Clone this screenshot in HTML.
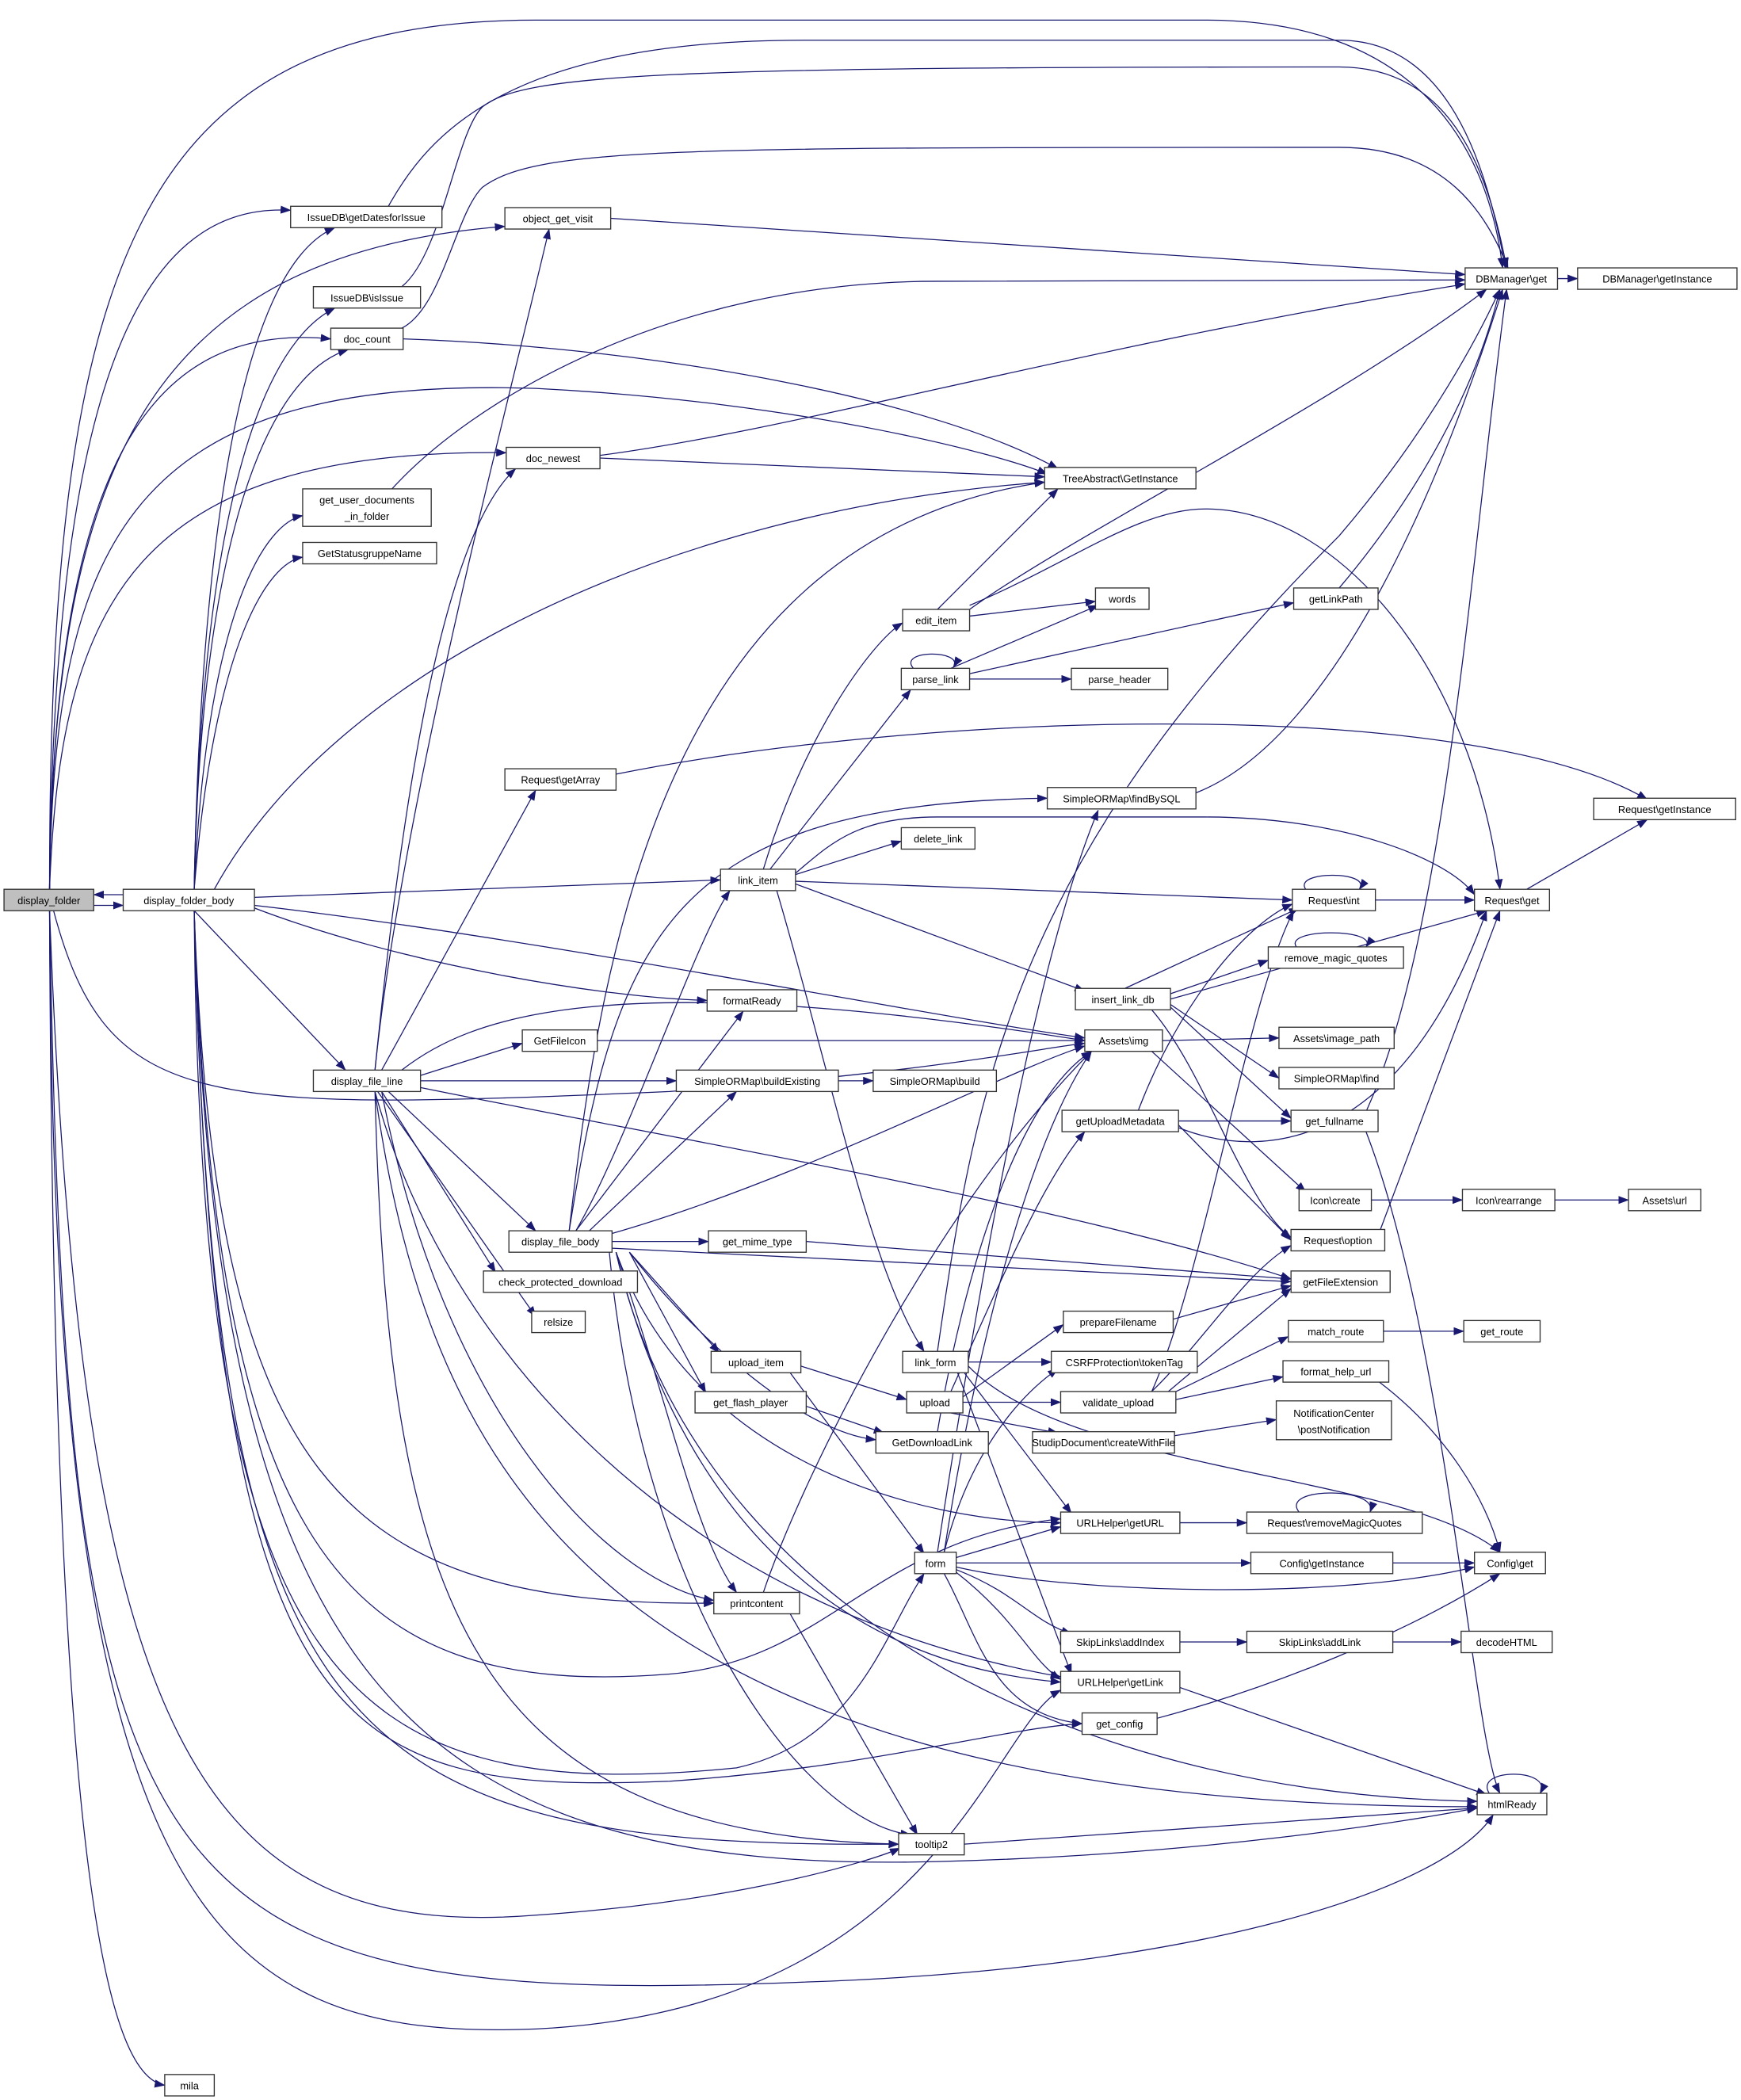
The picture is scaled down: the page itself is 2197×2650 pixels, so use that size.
<!DOCTYPE html>
<html><head><meta charset="utf-8"><style>
html,body{margin:0;padding:0;background:#fff;}
svg{display:block;}
text{font-family:"Liberation Sans","DejaVu Sans",sans-serif;font-size:7.6px;fill:#000;}
.n{fill:#fff;stroke:#333;stroke-width:0.8;}
.e{fill:none;stroke:#191970;stroke-width:0.75;marker-end:url(#a);}
</style></head><body>
<svg width="2197" height="2650" viewBox="0 0 1300 1568" xmlns="http://www.w3.org/2000/svg">
<defs><marker id="a" markerUnits="userSpaceOnUse" markerWidth="8" markerHeight="6" refX="7.5" refY="3" orient="auto"><path d="M0,0 L8,3 L0,6 z" fill="#191970"/></marker></defs>
<g>
<!-- display_folder edges -->
<path class="e" d="M37,664 C37,200 100,15 400,15 L900,15 C1050,15 1110,100 1122,200"/>
<path class="e" d="M37,664 C40,300 100,150 217,157"/>
<path class="e" d="M37,664 C40,350 110,190 377,169"/>
<path class="e" d="M37,664 C40,350 110,240 247,253"/>
<path class="e" d="M37,664 C40,400 100,280 400,290 C600,300 750,340 782,354"/>
<path class="e" d="M37,664 C45,450 100,335 378,338"/>
<path class="e" d="M70,676 L92,676"/>
<path class="e" d="M92,668 L70,668"/>
<path class="e" d="M40,680 C80,830 150,830 500,815 C700,800 780,782 810,779"/>
<path class="e" d="M37,680 C50,1420 100,1500 600,1480 C900,1470 1080,1410 1115,1355"/>
<path class="e" d="M37,680 C60,1300 150,1450 400,1430 C550,1420 650,1390 672,1380"/>
<path class="e" d="M37,680 C40,1420 150,1525 400,1515 C700,1500 740,1290 792,1262"/>
<path class="e" d="M37,680 C40,1400 80,1550 123,1557"/>
<!-- display_folder_body edges -->
<path class="e" d="M145,664 C150,400 180,200 250,170"/>
<path class="e" d="M145,664 C150,400 190,260 250,230"/>
<path class="e" d="M145,664 C150,400 200,280 260,261"/>
<path class="e" d="M145,664 C155,450 200,390 226,385"/>
<path class="e" d="M145,664 C160,480 200,420 226,416"/>
<path class="e" d="M160,664 C250,500 500,380 780,360"/>
<path class="e" d="M190,670 L538,657"/>
<path class="e" d="M145,680 L258,799"/>
<path class="e" d="M190,678 C300,720 450,745 528,747"/>
<path class="e" d="M190,676 C400,700 700,760 810,775"/>
<path class="e" d="M145,680 C160,1100 250,1200 533,1197"/>
<path class="e" d="M145,680 C160,1300 250,1380 671,1377"/>
<path class="e" d="M145,680 C160,1300 250,1340 500,1330 C650,1320 750,1290 808,1287"/>
<path class="e" d="M145,680 C150,1250 250,1350 550,1320 C640,1300 660,1220 690,1175"/>
<path class="e" d="M145,680 C160,1150 250,1270 500,1250 C620,1240 650,1150 792,1134"/>
<path class="e" d="M145,680 C160,1250 300,1400 700,1390 C900,1385 1050,1360 1103,1350"/>
<!-- top arcs to DBManager -->
<path class="e" d="M290,154 C320,100 380,30 600,30 L1000,30 C1080,30 1110,120 1124,200"/>
<path class="e" d="M300,214 C330,190 340,100 360,80 C390,55 500,50 1000,50 C1080,50 1110,120 1125,200"/>
<path class="e" d="M300,245 C330,230 340,160 360,140 C400,110 500,110 1000,110 C1080,110 1110,160 1126,200"/>
<path class="e" d="M456,163 L1094,205"/>
<path class="e" d="M290,368 C350,300 500,210 700,210 L1094,209"/>
<path class="e" d="M301,253 C500,260 700,300 790,350"/>
<path class="e" d="M448,340 C600,320 800,260 1094,212"/>
<path class="e" d="M448,342 L780,356"/>
<path class="e" d="M1163,208 L1178,208"/>
<!-- display_file_line edges -->
<path class="e" d="M280,799 C300,600 380,300 410,171"/>
<path class="e" d="M280,799 C300,600 330,400 385,350"/>
<path class="e" d="M285,799 L400,590"/>
<path class="e" d="M314,803 L390,779"/>
<path class="e" d="M314,807 L505,807"/>
<path class="e" d="M290,815 L400,919"/>
<path class="e" d="M285,815 L370,950"/>
<path class="e" d="M282,815 L400,983"/>
<path class="e" d="M314,812 C500,850 800,900 964,955"/>
<path class="e" d="M300,799 C350,760 450,720 810,777"/>
<path class="e" d="M280,815 C290,1200 350,1370 671,1377"/>
<path class="e" d="M280,815 C320,1100 450,1350 1103,1349"/>
<path class="e" d="M280,815 C330,1000 500,1200 792,1252"/>
<path class="e" d="M285,815 C330,1050 450,1180 533,1195"/>
<!-- display_file_body edges -->
<path class="e" d="M430,919 C470,850 520,700 545,665"/>
<path class="e" d="M425,919 C450,700 500,400 780,360"/>
<path class="e" d="M425,919 C460,700 500,600 782,596"/>
<path class="e" d="M430,919 L555,755"/>
<path class="e" d="M440,919 L550,815"/>
<path class="e" d="M457,921 C600,880 750,800 810,781"/>
<path class="e" d="M457,927 L529,927"/>
<path class="e" d="M457,932 L964,957"/>
<path class="e" d="M470,935 L537,1010"/>
<path class="e" d="M470,935 L527,1040"/>
<path class="e" d="M470,935 C520,1000 600,1070 654,1075"/>
<path class="e" d="M460,935 C500,1050 520,1150 550,1189"/>
<path class="e" d="M455,935 C480,1200 600,1360 680,1370"/>
<path class="e" d="M460,935 C500,1100 600,1240 792,1256"/>
<path class="e" d="M460,935 C520,1100 700,1137 792,1137"/>
<path class="e" d="M460,935 C520,1200 800,1340 1103,1345"/>
<!-- link_item -->
<path class="e" d="M570,649 C600,550 650,480 674,465"/>
<path class="e" d="M575,649 L680,515"/>
<path class="e" d="M594,653 L673,628"/>
<path class="e" d="M594,658 L965,672"/>
<path class="e" d="M594,652 C620,630 640,610 700,610 L900,610 C1000,610 1080,640 1101,668"/>
<path class="e" d="M594,660 L810,740"/>
<path class="e" d="M580,665 C620,800 650,950 690,1009"/>
<!-- edit_item -->
<path class="e" d="M700,455 L790,365"/>
<path class="e" d="M724,460 L818,449"/>
<path class="e" d="M724,455 C800,400 1000,300 1110,216"/>
<path class="e" d="M724,452 C800,420 850,380 900,380 C1000,380 1100,500 1120,664"/>
<!-- parse_link -->
<path class="e" d="M682,499 C670,485 720,485 712,498"/>
<path class="e" d="M710,499 L820,452"/>
<path class="e" d="M724,503 L966,450"/>
<path class="e" d="M724,507 L800,507"/>
<path class="e" d="M1000,439 C1050,380 1100,300 1120,216"/>
<path class="e" d="M460,578 C700,530 1100,520 1230,597"/>
<path class="e" d="M893,592 C1000,550 1080,350 1122,216"/>
<path class="e" d="M1140,664 L1230,612"/>
<path class="e" d="M1027,672 L1101,672"/>
<path class="e" d="M975,664 C965,650 1025,650 1015,664"/>
<path class="e" d="M968,707 C958,693 1030,693 1020,707"/>
<!-- insert_link_db -->
<path class="e" d="M840,738 L970,678"/>
<path class="e" d="M874,742 L947,717"/>
<path class="e" d="M874,746 L1110,680"/>
<path class="e" d="M874,750 L955,805"/>
<path class="e" d="M874,752 L964,835"/>
<path class="e" d="M860,754 C900,800 930,900 964,924"/>
<path class="e" d="M868,777 L955,775"/>
<path class="e" d="M860,785 L975,890"/>
<path class="e" d="M446,777 L810,777"/>
<path class="e" d="M626,807 L652,807"/>
<!-- getUploadMetadata -->
<path class="e" d="M850,829 C880,750 930,690 965,675"/>
<path class="e" d="M880,837 L964,837"/>
<path class="e" d="M880,840 L964,926"/>
<path class="e" d="M880,842 C950,870 1050,850 1110,680"/>
<path class="e" d="M1020,830 C1080,700 1100,400 1125,216"/>
<path class="e" d="M1020,845 C1080,1000 1100,1300 1120,1339"/>
<path class="e" d="M1024,896 L1092,896"/>
<path class="e" d="M1161,896 L1216,896"/>
<path class="e" d="M1030,920 L1120,680"/>
<path class="e" d="M602,927 L964,955"/>
<path class="e" d="M876,985 L964,960"/>
<path class="e" d="M1033,994 L1093,994"/>
<!-- link_form -->
<path class="e" d="M723,1017 L785,1017"/>
<path class="e" d="M700,1009 C730,800 760,640 1000,400 C1060,330 1100,260 1120,216"/>
<path class="e" d="M720,1025 L800,1130"/>
<path class="e" d="M723,1020 C800,1100 1050,1100 1120,1159"/>
<path class="e" d="M715,1025 L800,1250"/>
<path class="e" d="M598,1020 L677,1045"/>
<path class="e" d="M590,1025 L690,1160"/>
<path class="e" d="M719,1043 L794,989"/>
<path class="e" d="M719,1047 L792,1047"/>
<path class="e" d="M710,1055 L790,1070"/>
<path class="e" d="M710,1039 C750,950 780,880 810,845"/>
<path class="e" d="M860,1039 C900,1000 930,950 964,930"/>
<path class="e" d="M870,1041 L964,962"/>
<path class="e" d="M870,1043 L962,998"/>
<path class="e" d="M878,1045 L958,1028"/>
<path class="e" d="M860,1039 C900,950 930,750 966,680"/>
<path class="e" d="M1030,1032 C1080,1070 1110,1120 1120,1159"/>
<path class="e" d="M877,1072 L953,1060"/>
<path class="e" d="M602,1050 L660,1070"/>
<path class="e" d="M700,1069 C720,950 760,820 815,785"/>
<path class="e" d="M881,1137 L931,1137"/>
<path class="e" d="M970,1129 C955,1110 1030,1110 1023,1129"/>
<!-- form -->
<path class="e" d="M714,1163 L792,1140"/>
<path class="e" d="M714,1167 L934,1167"/>
<path class="e" d="M714,1170 C800,1190 1000,1195 1101,1170"/>
<path class="e" d="M714,1172 C760,1190 770,1210 800,1220"/>
<path class="e" d="M714,1174 C760,1210 770,1240 792,1254"/>
<path class="e" d="M705,1175 C730,1220 740,1280 808,1287"/>
<path class="e" d="M700,1159 C740,900 780,700 820,605"/>
<path class="e" d="M705,1159 C730,1000 770,850 815,785"/>
<path class="e" d="M705,1159 C720,1100 750,1050 790,1022"/>
<path class="e" d="M1040,1167 L1101,1167"/>
<path class="e" d="M881,1226 L931,1226"/>
<path class="e" d="M1040,1226 L1091,1226"/>
<path class="e" d="M881,1260 L1110,1340"/>
<path class="e" d="M864,1283 C950,1260 1050,1220 1120,1175"/>
<path class="e" d="M570,1189 C600,1100 700,900 815,785"/>
<path class="e" d="M590,1205 L685,1370"/>
<path class="e" d="M720,1377 L1103,1350"/>
<path class="e" d="M1112,1339 C1100,1320 1160,1320 1150,1339"/>
</g>
<g>
<rect x="3" y="664" width="67" height="16" fill="#bfbfbf" stroke="#333" stroke-width="0.8"/><text x="36.5" y="675" text-anchor="middle">display_folder</text>
<rect class="n" x="92" y="664" width="98" height="16"/><text x="141" y="675" text-anchor="middle">display_folder_body</text>
<rect class="n" x="217" y="154" width="113" height="16"/><text x="273.5" y="165" text-anchor="middle">IssueDB\getDatesforIssue</text>
<rect class="n" x="377" y="155" width="79" height="16"/><text x="416.5" y="166" text-anchor="middle">object_get_visit</text>
<rect class="n" x="234" y="214" width="80" height="16"/><text x="274" y="225" text-anchor="middle">IssueDB\isIssue</text>
<rect class="n" x="247" y="245" width="54" height="16"/><text x="274" y="256" text-anchor="middle">doc_count</text>
<rect class="n" x="378" y="334" width="70" height="16"/><text x="413" y="345" text-anchor="middle">doc_newest</text>
<rect class="n" x="226" y="365" width="96" height="28"/><text x="274" y="376" text-anchor="middle">get_user_documents</text><text x="274" y="388" text-anchor="middle">_in_folder</text>
<rect class="n" x="226" y="405" width="100" height="16"/><text x="276" y="416" text-anchor="middle">GetStatusgruppeName</text>
<rect class="n" x="1094" y="200" width="69" height="16"/><text x="1128.5" y="211" text-anchor="middle">DBManager\get</text>
<rect class="n" x="1178" y="200" width="119" height="16"/><text x="1237.5" y="211" text-anchor="middle">DBManager\getInstance</text>
<rect class="n" x="780" y="349" width="113" height="16"/><text x="836.5" y="360" text-anchor="middle">TreeAbstract\GetInstance</text>
<rect class="n" x="674" y="455" width="50" height="16"/><text x="699" y="466" text-anchor="middle">edit_item</text>
<rect class="n" x="818" y="439" width="40" height="16"/><text x="838" y="450" text-anchor="middle">words</text>
<rect class="n" x="966" y="439" width="63" height="16"/><text x="997.5" y="450" text-anchor="middle">getLinkPath</text>
<rect class="n" x="673" y="499" width="51" height="16"/><text x="698.5" y="510" text-anchor="middle">parse_link</text>
<rect class="n" x="800" y="499" width="72" height="16"/><text x="836" y="510" text-anchor="middle">parse_header</text>
<rect class="n" x="377" y="574" width="83" height="16"/><text x="418.5" y="585" text-anchor="middle">Request\getArray</text>
<rect class="n" x="782" y="588" width="111" height="16"/><text x="837.5" y="599" text-anchor="middle">SimpleORMap\findBySQL</text>
<rect class="n" x="1190" y="596" width="106" height="16"/><text x="1243" y="607" text-anchor="middle">Request\getInstance</text>
<rect class="n" x="673" y="618" width="55" height="16"/><text x="700.5" y="629" text-anchor="middle">delete_link</text>
<rect class="n" x="538" y="649" width="56" height="16"/><text x="566" y="660" text-anchor="middle">link_item</text>
<rect class="n" x="965" y="664" width="62" height="16"/><text x="996" y="675" text-anchor="middle">Request\int</text>
<rect class="n" x="1101" y="664" width="56" height="16"/><text x="1129" y="675" text-anchor="middle">Request\get</text>
<rect class="n" x="947" y="707" width="101" height="16"/><text x="997.5" y="718" text-anchor="middle">remove_magic_quotes</text>
<rect class="n" x="803" y="738" width="71" height="16"/><text x="838.5" y="749" text-anchor="middle">insert_link_db</text>
<rect class="n" x="528" y="739" width="67" height="16"/><text x="561.5" y="750" text-anchor="middle">formatReady</text>
<rect class="n" x="810" y="769" width="58" height="16"/><text x="839" y="780" text-anchor="middle">Assets\img</text>
<rect class="n" x="955" y="767" width="86" height="16"/><text x="998" y="778" text-anchor="middle">Assets\image_path</text>
<rect class="n" x="390" y="769" width="56" height="16"/><text x="418" y="780" text-anchor="middle">GetFileIcon</text>
<rect class="n" x="234" y="799" width="80" height="16"/><text x="274" y="810" text-anchor="middle">display_file_line</text>
<rect class="n" x="505" y="799" width="121" height="16"/><text x="565.5" y="810" text-anchor="middle">SimpleORMap\buildExisting</text>
<rect class="n" x="652" y="799" width="92" height="16"/><text x="698" y="810" text-anchor="middle">SimpleORMap\build</text>
<rect class="n" x="955" y="797" width="86" height="16"/><text x="998" y="808" text-anchor="middle">SimpleORMap\find</text>
<rect class="n" x="793" y="829" width="87" height="16"/><text x="836.5" y="840" text-anchor="middle">getUploadMetadata</text>
<rect class="n" x="964" y="829" width="65" height="16"/><text x="996.5" y="840" text-anchor="middle">get_fullname</text>
<rect class="n" x="970" y="888" width="54" height="16"/><text x="997" y="899" text-anchor="middle">Icon\create</text>
<rect class="n" x="1092" y="888" width="69" height="16"/><text x="1126.5" y="899" text-anchor="middle">Icon\rearrange</text>
<rect class="n" x="1216" y="888" width="54" height="16"/><text x="1243" y="899" text-anchor="middle">Assets\url</text>
<rect class="n" x="380" y="919" width="77" height="16"/><text x="418.5" y="930" text-anchor="middle">display_file_body</text>
<rect class="n" x="529" y="919" width="73" height="16"/><text x="565.5" y="930" text-anchor="middle">get_mime_type</text>
<rect class="n" x="964" y="918" width="70" height="16"/><text x="999" y="929" text-anchor="middle">Request\option</text>
<rect class="n" x="361" y="949" width="115" height="16"/><text x="418.5" y="960" text-anchor="middle">check_protected_download</text>
<rect class="n" x="964" y="949" width="74" height="16"/><text x="1001" y="960" text-anchor="middle">getFileExtension</text>
<rect class="n" x="397" y="979" width="40" height="16"/><text x="417" y="990" text-anchor="middle">relsize</text>
<rect class="n" x="794" y="979" width="82" height="16"/><text x="835" y="990" text-anchor="middle">prepareFilename</text>
<rect class="n" x="962" y="986" width="71" height="16"/><text x="997.5" y="997" text-anchor="middle">match_route</text>
<rect class="n" x="1093" y="986" width="57" height="16"/><text x="1121.5" y="997" text-anchor="middle">get_route</text>
<rect class="n" x="674" y="1009" width="49" height="16"/><text x="698.5" y="1020" text-anchor="middle">link_form</text>
<rect class="n" x="785" y="1009" width="109" height="16"/><text x="839.5" y="1020" text-anchor="middle">CSRFProtection\tokenTag</text>
<rect class="n" x="531" y="1009" width="67" height="16"/><text x="564.5" y="1020" text-anchor="middle">upload_item</text>
<rect class="n" x="958" y="1016" width="79" height="16"/><text x="997.5" y="1027" text-anchor="middle">format_help_url</text>
<rect class="n" x="677" y="1039" width="42" height="16"/><text x="698" y="1050" text-anchor="middle">upload</text>
<rect class="n" x="792" y="1039" width="86" height="16"/><text x="835" y="1050" text-anchor="middle">validate_upload</text>
<rect class="n" x="519" y="1039" width="83" height="16"/><text x="560.5" y="1050" text-anchor="middle">get_flash_player</text>
<rect class="n" x="953" y="1046" width="86" height="29"/><text x="996" y="1058" text-anchor="middle">NotificationCenter</text><text x="996" y="1070" text-anchor="middle">\postNotification</text>
<rect class="n" x="654" y="1069" width="84" height="16"/><text x="696" y="1080" text-anchor="middle">GetDownloadLink</text>
<rect class="n" x="771" y="1069" width="106" height="16"/><text x="824" y="1080" text-anchor="middle">StudipDocument\createWithFile</text>
<rect class="n" x="792" y="1129" width="89" height="16"/><text x="836.5" y="1140" text-anchor="middle">URLHelper\getURL</text>
<rect class="n" x="931" y="1129" width="131" height="16"/><text x="996.5" y="1140" text-anchor="middle">Request\removeMagicQuotes</text>
<rect class="n" x="683" y="1159" width="31" height="16"/><text x="698.5" y="1170" text-anchor="middle">form</text>
<rect class="n" x="934" y="1159" width="106" height="16"/><text x="987" y="1170" text-anchor="middle">Config\getInstance</text>
<rect class="n" x="1101" y="1159" width="53" height="16"/><text x="1127.5" y="1170" text-anchor="middle">Config\get</text>
<rect class="n" x="533" y="1189" width="64" height="16"/><text x="565" y="1200" text-anchor="middle">printcontent</text>
<rect class="n" x="792" y="1218" width="89" height="16"/><text x="836.5" y="1229" text-anchor="middle">SkipLinks\addIndex</text>
<rect class="n" x="931" y="1218" width="109" height="16"/><text x="985.5" y="1229" text-anchor="middle">SkipLinks\addLink</text>
<rect class="n" x="1091" y="1218" width="68" height="16"/><text x="1125" y="1229" text-anchor="middle">decodeHTML</text>
<rect class="n" x="792" y="1248" width="89" height="16"/><text x="836.5" y="1259" text-anchor="middle">URLHelper\getLink</text>
<rect class="n" x="808" y="1279" width="56" height="16"/><text x="836" y="1290" text-anchor="middle">get_config</text>
<rect class="n" x="1103" y="1339" width="52" height="16"/><text x="1129" y="1350" text-anchor="middle">htmlReady</text>
<rect class="n" x="671" y="1369" width="49" height="16"/><text x="695.5" y="1380" text-anchor="middle">tooltip2</text>
<rect class="n" x="123" y="1549" width="37" height="16"/><text x="141.5" y="1560" text-anchor="middle">mila</text>
</g>
</svg>
</body></html>
